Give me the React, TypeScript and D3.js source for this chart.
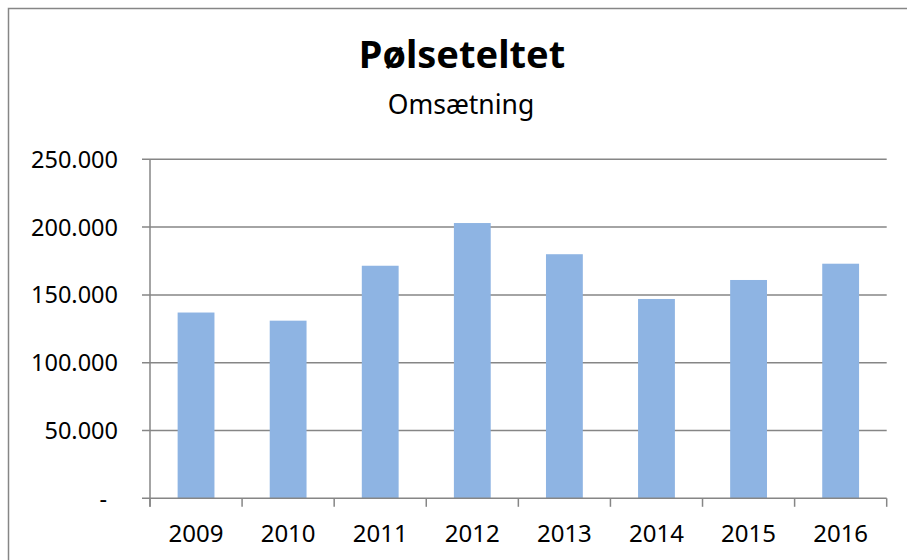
import React, { useRef, useEffect } from 'react';
import * as d3 from 'd3';

const years = ['2009', '2010', '2011', '2012', '2013', '2014', '2015', '2016'];
const revenue = [137000, 131000, 171500, 203000, 180000, 147000, 161000, 173000];
const yTicks = [0, 50000, 100000, 150000, 200000, 250000];

const title = 'Pølseteltet';
const subtitle = 'Omsætning';

const App = () => {
    const chart = useRef<SVGSVGElement>(null);

    useEffect(() => {
        const svg = d3.select(chart.current);
        svg.selectAll('*').remove();

        const font = "'Noto Sans', sans-serif";
        const grey = '#868686';
        const left = 150, right = 886.7, top = 159.3, bottom = 498.3;

        // outer chart border (only top and left are inside the window)
        svg.append('rect')
            .attr('x', 8.5).attr('y', 8.5)
            .attr('width', 1000).attr('height', 1000)
            .attr('fill', 'white')
            .attr('stroke', grey)
            .attr('stroke-width', 1.5);

        const x = d3.scaleBand()
            .domain(years)
            .range([left, right])
            .paddingInner(0)
            .paddingOuter(0);

        const y = d3.scaleLinear()
            .domain([0, 250000])
            .range([bottom, top]);

        const fmt = (v: number) => v === 0 ? '-' : d3.format(',')(v).replace(/,/g, '.');

        // gridlines
        svg.append('g')
            .selectAll('line')
            .data(yTicks.filter(d => d > 0))
            .enter()
            .append('line')
            .attr('x1', left - 8).attr('x2', right)
            .attr('y1', d => y(d)).attr('y2', d => y(d))
            .attr('stroke', grey)
            .attr('stroke-width', 1.5);

        // bars, gap width 150%
        const barW = x.bandwidth() / 2.5;
        svg.append('g')
            .selectAll('rect')
            .data(revenue)
            .enter()
            .append('rect')
            .attr('x', (d, i) => x(years[i])! + (x.bandwidth() - barW) / 2)
            .attr('y', d => y(d))
            .attr('width', barW)
            .attr('height', d => bottom - y(d))
            .attr('fill', '#8EB4E3');

        // y axis
        svg.append('line')
            .attr('x1', left).attr('x2', left)
            .attr('y1', top).attr('y2', bottom + 8.5)
            .attr('stroke', grey).attr('stroke-width', 1.5);

        svg.append('line')
            .attr('x1', left - 8).attr('x2', right)
            .attr('y1', bottom).attr('y2', bottom)
            .attr('stroke', grey).attr('stroke-width', 1.5);

        // category ticks
        const edges = years.map(d => x(d)!).concat([right]);
        svg.append('g')
            .selectAll('line')
            .data(edges)
            .enter()
            .append('line')
            .attr('x1', d => d).attr('x2', d => d)
            .attr('y1', bottom).attr('y2', bottom + 8.5)
            .attr('stroke', grey).attr('stroke-width', 1.5);

        svg.append('g')
            .selectAll('text')
            .data(yTicks)
            .enter()
            .append('text')
            .attr('x', d => d === 0 ? 107 : 118)
            .attr('y', d => y(d))
            .attr('dy', '0.36em')
            .attr('text-anchor', 'end')
            .style('font-family', font)
            .style('font-size', '23.5px')
            .style('fill', '#000')
            .text(d => fmt(d));

        svg.append('g')
            .selectAll('text')
            .data(years)
            .enter()
            .append('text')
            .attr('x', d => x(d)! + x.bandwidth() / 2)
            .attr('y', 541.5)
            .attr('text-anchor', 'middle')
            .style('font-family', font)
            .style('font-size', '24px')
            .style('fill', '#000')
            .text(d => d);

        svg.append('text')
            .attr('x', 462).attr('y', 68.3)
            .attr('text-anchor', 'middle')
            .style('font-family', font)
            .style('font-weight', 'bold')
            .style('font-size', '38px')
            .text(title);

        svg.append('text')
            .attr('x', 461).attr('y', 114.3)
            .attr('text-anchor', 'middle')
            .style('font-family', font)
            .style('font-size', '26.5px')
            .text(subtitle);
    }, []);

    return (
        <svg ref={chart} width={907} height={560}
            style={{ position: 'absolute', left: 0, top: 0, background: 'white' }}></svg>
    );
};

export default App;
